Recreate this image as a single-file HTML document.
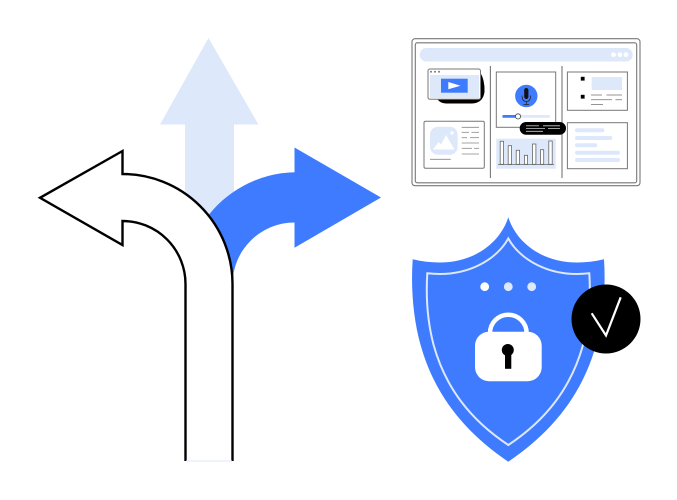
<!DOCTYPE html>
<html><head><meta charset="utf-8"><style>html,body{margin:0;padding:0;background:#fff}svg{display:block}</style></head>
<body>
<svg width="677" height="500" viewBox="0 0 677 500" xmlns="http://www.w3.org/2000/svg">
<rect width="677" height="500" fill="#fff"/>
<!-- up arrow -->
<polygon points="208.500,38 258.500,124.500 234,124.500 234,215 185,215 185,124.500 160,124.500" fill="#dde8fb"/>
<!-- right arrow -->
<path d="M294.500,147.500 L381,197.500 L294.500,247.800 L294.500,222.500 A62,62 0 0 0 232.500,284 L205,220 A112,112 0 0 1 294.500,172.300 Z" fill="#3f7bff"/>
<!-- left arrow -->
<path d="M232.500,461 L232.500,284 A110,110 0 0 0 122.500,174 L122.500,151 L40,197.800 L122.500,245 L122.500,221 A63,63 0 0 1 185.500,284 L185.500,461" fill="#fff" stroke="#000" stroke-width="2.400" stroke-linejoin="miter"/>
<line x1="186" y1="461" x2="232" y2="461" stroke="#dde8fb" stroke-width="1"/>

<!-- browser frame -->
<rect x="412" y="38.700" width="228" height="147" rx="3" fill="#fff" stroke="#777" stroke-width="1.100"/>
<rect x="415.300" y="42.800" width="221.400" height="140" rx="2" fill="#fff" stroke="#777" stroke-width="1.100"/>
<rect x="419.700" y="48" width="213" height="13.500" rx="6.700" fill="#dde8fb"/>
<circle cx="613.500" cy="54.700" r="2.400" fill="#fff"/><circle cx="619.800" cy="54.700" r="2.400" fill="#fff"/><circle cx="626" cy="54.700" r="2.400" fill="#fff"/>
<line x1="490.400" y1="66" x2="490.400" y2="178" stroke="#777" stroke-width="1.100"/>
<line x1="562" y1="66" x2="562" y2="178" stroke="#777" stroke-width="1.100"/>

<!-- video card -->
<path d="M436,96 L474,96 Q480,92 480,72 Q485,80 484.500,92 Q483,103 472,103.500 L446,103.500 Q438,103 436,96 Z" fill="#000"/>
<rect x="428" y="69" width="52.500" height="30.300" rx="2" fill="#fff" stroke="#777" stroke-width="1"/>
<rect x="430" y="75" width="49" height="23" fill="#dde8fb"/>
<circle cx="431" cy="71.800" r="1" fill="#777"/><circle cx="435" cy="71.800" r="1" fill="#777"/><circle cx="439" cy="71.800" r="1" fill="#777"/>
<rect x="441" y="78.700" width="26.700" height="14" fill="#3f7bff"/>
<polygon points="448.300,82 460.500,85.700 448.300,89.300" fill="#fff"/>

<!-- image card -->
<rect x="424" y="121.300" width="60.300" height="47" rx="1.500" fill="#fff" stroke="#777" stroke-width="1"/>
<rect x="430" y="126.700" width="27.700" height="28" rx="8" fill="#dde8fb"/>
<polygon points="433,149.500 438.500,142 441,144.500 446,135 454.500,149.500" fill="#fff"/>
<circle cx="452" cy="133" r="1.600" fill="#fff"/>
<g stroke="#888" stroke-width="0.800">
<line x1="461.700" y1="127.300" x2="479" y2="127.300"/>
<line x1="461.700" y1="132.300" x2="469" y2="132.300"/><line x1="471.500" y1="132.300" x2="479" y2="132.300"/>
<line x1="461.700" y1="137.700" x2="467" y2="137.700"/><line x1="470" y1="137.700" x2="479" y2="137.700"/>
<line x1="461.700" y1="143" x2="479" y2="143"/>
<line x1="461.700" y1="148.300" x2="472" y2="148.300"/><line x1="474" y1="148.300" x2="479" y2="148.300"/>
<line x1="461.700" y1="154" x2="479" y2="154"/>
<line x1="430" y1="159.300" x2="450.700" y2="159.300"/>
</g>

<!-- mic card -->
<rect x="496.300" y="72" width="59.400" height="55.300" fill="#fff" stroke="#777" stroke-width="1"/>
<circle cx="526.300" cy="96" r="11.200" fill="#3f7bff"/>
<rect x="524.200" y="88" width="4.200" height="11" rx="2.100" fill="#111"/>
<path d="M522,95.500 Q522,101.500 526.300,101.500 Q530.600,101.500 530.600,95.500 M526.300,101.500 L526.300,104.500 M523.500,104.500 L529,104.500" fill="none" stroke="#222" stroke-width="0.700"/>
<rect x="502.300" y="115" width="47.700" height="2.800" rx="1.400" fill="#dde8fb"/>
<rect x="502.300" y="115" width="15" height="2.800" rx="1.400" fill="#3f7bff"/>
<circle cx="518" cy="116.400" r="2.600" fill="#fff" stroke="#444" stroke-width="0.800"/>
<rect x="519.700" y="122" width="46.300" height="12.700" rx="6.300" fill="#000"/>
<g stroke="#ccc" stroke-width="0.800">
<line x1="526" y1="125.800" x2="539" y2="125.800"/><line x1="543" y1="125.800" x2="560" y2="125.800"/>
<line x1="526" y1="128.500" x2="545" y2="128.500"/><line x1="548" y1="128.500" x2="560" y2="128.500"/>
<line x1="526" y1="131.300" x2="543" y2="131.300"/>
</g>

<!-- chart -->
<rect x="496.300" y="138.700" width="59.400" height="30" fill="#dde8fb"/>
<g fill="#fff" stroke="#666" stroke-width="0.800">
<rect x="500.200" y="141.300" width="3.400" height="23"/>
<rect x="508.200" y="145.700" width="3.400" height="18.600"/>
<rect x="516.200" y="150.300" width="3.400" height="14"/>
<rect x="524.400" y="155.300" width="3.200" height="9"/>
<rect x="532.500" y="144" width="3.400" height="20.300"/>
<rect x="540.500" y="149.700" width="3.200" height="14.600"/>
<rect x="548.800" y="141" width="3.400" height="23.300"/>
</g>
<line x1="498" y1="164.500" x2="554" y2="164.500" stroke="#666" stroke-width="0.800"/>

<!-- right top card -->
<rect x="567.400" y="72" width="60" height="38.300" fill="#fff" stroke="#777" stroke-width="1"/>
<rect x="580.800" y="76.800" width="3.800" height="3.800" fill="#000"/>
<rect x="580.800" y="94.800" width="3.800" height="3.800" fill="#000"/>
<rect x="591.700" y="77" width="30.300" height="13" fill="#dde8fb"/>
<g stroke="#888" stroke-width="0.900">
<line x1="591" y1="95" x2="602" y2="95"/><line x1="606.500" y1="95" x2="622" y2="95"/>
<line x1="591" y1="99.700" x2="612" y2="99.700"/><line x1="615.500" y1="99.700" x2="622" y2="99.700"/>
<line x1="591" y1="104.500" x2="603" y2="104.500"/>
</g>

<!-- right bottom card -->
<rect x="567.400" y="122.700" width="60" height="46" fill="#fff" stroke="#777" stroke-width="1"/>
<g fill="#dde8fb">
<rect x="575" y="128.300" width="29.300" height="4" rx="2"/>
<rect x="575" y="136" width="37.300" height="4" rx="2"/>
<rect x="575" y="143.300" width="22.300" height="4" rx="2"/>
<rect x="575" y="150.700" width="45" height="4" rx="2"/>
<rect x="575" y="158" width="45" height="4" rx="2"/>
</g>

<!-- shield -->
<path d="M508.300,217.300 C517,245 550,272 604,259.300 C606,290 603,320 596,345 C582,395 552,432 508.300,461.700 C464.600,432 434.600,395 420.600,345 C413.600,320 410.600,290 412.700,259.300 C466.600,272 499.600,245 508.300,217.300 Z" fill="#3f7bff"/>
<path d="M508.300,238.500 C519,258 548,278 589.300,273.300 C591,300 589,322 583,345 C571,388 546,420 508.300,445 C470.600,420 445.600,388 433.600,345 C427.600,322 425.600,300 427.300,273.300 C468.600,278 497.600,258 508.300,238.500 Z" fill="none" stroke="#dde8fb" stroke-width="2"/>
<circle cx="484.700" cy="286.700" r="4.400" fill="#fff"/>
<circle cx="508.300" cy="286.700" r="4.400" fill="#dde8fb"/>
<circle cx="531.700" cy="286.700" r="4.400" fill="#dde8fb"/>
<!-- lock -->
<path d="M490,334 L490,333 A18.300,18.300 0 0 1 526.600,333 L526.600,334" fill="none" stroke="#fff" stroke-width="4.500"/>
<rect x="475" y="331.700" width="66.700" height="49.500" rx="14" fill="#fff"/>
<circle cx="507.800" cy="350" r="6" fill="#000"/>
<rect x="505" y="350" width="6.300" height="18.800" fill="#000"/>
<!-- check badge -->
<circle cx="606" cy="319" r="34.500" fill="#000"/>
<polyline points="591.700,313.300 606,335.500 620.700,297.300" fill="none" stroke="#fff" stroke-width="2.200"/>
</svg>
</body></html>
